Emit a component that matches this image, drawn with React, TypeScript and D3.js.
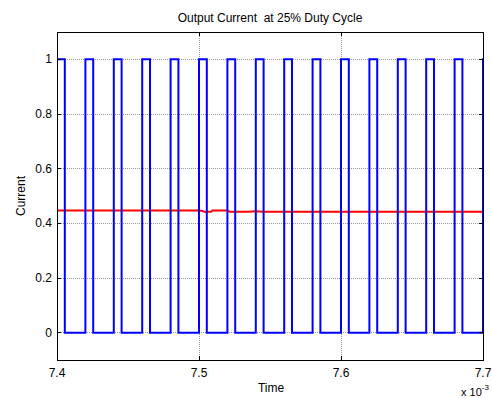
import React from "react";
import * as d3 from "d3";

// x values are in units of 1e-3 s
const pulseRise = [7.40, 7.42, 7.44, 7.46, 7.48, 7.50, 7.52, 7.54, 7.56, 7.58, 7.60, 7.62, 7.64, 7.66, 7.68, 7.70];
const pulseFall = [7.4055, 7.4255, 7.4455, 7.4655, 7.4855, 7.5055, 7.5255, 7.5455, 7.5655, 7.5855, 7.6055, 7.6255, 7.6455, 7.6655, 7.6855, 7.7055];
const pulseHigh = 1;
const pulseLow = 0;

const avgTime = [7.40, 7.500, 7.5025, 7.5035, 7.5085, 7.5095, 7.520, 7.5215, 7.534, 7.538, 7.540, 7.545, 7.70];
const avgValue = [0.447, 0.447, 0.4455, 0.4425, 0.4425, 0.447, 0.447, 0.4425, 0.4425, 0.4435, 0.444, 0.4425, 0.4425];

const xTicks = [7.4, 7.5, 7.6, 7.7];
const xTickLabels = ["7.4", "7.5", "7.6", "7.7"];
const yTicks = [0, 0.2, 0.4, 0.6, 0.8, 1];
const yTickLabels = ["0", "0.2", "0.4", "0.6", "0.8", "1"];

const title = "Output Current  at 25% Duty Cycle";
const xLabel = "Time";
const yLabel = "Current";

export default function App() {
  const W = 492, H = 398;
  const L = 57, R = 483, T = 32, B = 360;
  const x = d3.scaleLinear().domain([7.4, 7.7]).range([L, R]);
  const y = d3.scaleLinear().domain([-0.1, 1.1]).range([B, T]);

  const sq: [number, number][] = [];
  pulseRise.forEach((r, i) => {
    sq.push([r, pulseLow]);
    sq.push([r, pulseHigh]);
    sq.push([pulseFall[i], pulseHigh]);
    sq.push([pulseFall[i], pulseLow]);
  });
  const line = d3.line<[number, number]>().x(d => x(d[0])).y(d => y(d[1]));
  const avgPts: [number, number][] = avgTime.map((t, i) => [t, avgValue[i]]);

  const font = "'Liberation Sans', Arial, sans-serif";
  const fs = 12;

  return (
    <div style={{ position: "absolute", left: 0, top: 0 }}>
      <svg width={W} height={H} style={{ display: "block", background: "#fff" }}>
        <defs>
          <clipPath id="plotclip">
            <rect x={L} y={T} width={R - L} height={B - T} />
          </clipPath>
        </defs>
        <rect x={0} y={0} width={W} height={H} fill="#fff" />
        {yTicks.map((v, i) => (
          <line key={"gy" + i} x1={L} x2={R} y1={y(v)} y2={y(v)} stroke="#9a9a9a" strokeWidth={1} strokeDasharray="1,1" shapeRendering="crispEdges" />
        ))}
        {xTicks.map((v, i) => (
          <line key={"gx" + i} x1={x(v)} x2={x(v)} y1={T} y2={B} stroke="#9a9a9a" strokeWidth={1} strokeDasharray="1,1" shapeRendering="crispEdges" />
        ))}
        <g clipPath="url(#plotclip)">
          <path d={line(avgPts) || ""} fill="none" stroke="#ff0000" strokeWidth={2} />
          <path d={line(sq) || ""} fill="none" stroke="#0000ff" strokeWidth={2} />
        </g>
        <rect x={L} y={T} width={R - L} height={B - T} fill="none" stroke="#000" strokeWidth={1} shapeRendering="crispEdges" />
        {yTicks.map((v, i) => (
          <g key={"ty" + i}>
            <line x1={L} x2={L + 4} y1={y(v)} y2={y(v)} stroke="#000" shapeRendering="crispEdges" />
            <line x1={R} x2={R - 4} y1={y(v)} y2={y(v)} stroke="#000" shapeRendering="crispEdges" />
            <text x={L - 5} y={y(v) + 4} textAnchor="end" fontFamily={font} fontSize={fs} fill="#000">{yTickLabels[i]}</text>
          </g>
        ))}
        {xTicks.map((v, i) => (
          <g key={"tx" + i}>
            <line x1={x(v)} x2={x(v)} y1={B} y2={B - 4} stroke="#000" shapeRendering="crispEdges" />
            <line x1={x(v)} x2={x(v)} y1={T} y2={T + 4} stroke="#000" shapeRendering="crispEdges" />
            <text x={x(v)} y={B + 17} textAnchor="middle" fontFamily={font} fontSize={fs} fill="#000">{xTickLabels[i]}</text>
          </g>
        ))}
        <text x={(L + R) / 2} y={22} textAnchor="middle" fontFamily={font} fontSize={fs} fill="#000" style={{ whiteSpace: "pre" }}>{title}</text>
        <text x={271} y={392} textAnchor="middle" fontFamily={font} fontSize={fs} fill="#000">{xLabel}</text>
        <text transform={`translate(25,${(T + B) / 2}) rotate(-90)`} textAnchor="middle" fontFamily={font} fontSize={fs} fill="#000">{yLabel}</text>
        <text x={461} y={396} fontFamily={font} fontSize={fs - 1} fill="#000">x 10<tspan dy={-6} fontSize={8}>-3</tspan></text>
      </svg>
    </div>
  );
}
